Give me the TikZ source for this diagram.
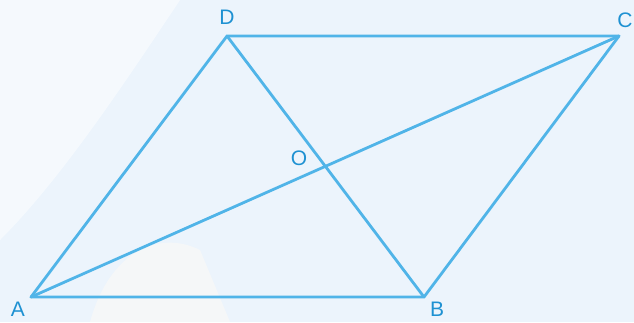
\documentclass[tikz,border=0pt]{standalone}
\usepackage{fontspec}
\setmainfont{Liberation Sans}
\usepackage{xcolor}
\usetikzlibrary{calc}
\definecolor{edgeblue}{RGB}{80,180,232}
\definecolor{labelblue}{RGB}{30,145,210}
\definecolor{bgblue}{RGB}{236,244,252}
\begin{document}
\begin{tikzpicture}[
  x=1pt, y=-1pt,
  edge/.style={draw=edgeblue, line width=2.8pt, line join=round, line cap=round},
  lbl/.style={text=labelblue, font=\fontsize{21}{21}\selectfont, inner sep=0pt}
]
\fill[bgblue] (0,0) rectangle (634,322);
\useasboundingbox (0,0) rectangle (634,322);
% faint watermark
\fill[white, opacity=0.5] (0,0) -- (180,0) .. controls (120,90) and (60,180) .. (0,240) -- cycle;
\fill[orange!4, opacity=0.5] (90,322) .. controls (110,250) and (160,230) .. (200,250) -- (230,322) -- cycle;
% vertices
\coordinate (A) at (31,297);
\coordinate (B) at (424,297);
\coordinate (C) at (619,36);
\coordinate (D) at (227,36);
\coordinate (O) at ($(A)!0.5!(C)$);
% sides and diagonals
\draw[edge] (A) -- (B) -- (C) -- (D) -- cycle;
\draw[edge] (A) -- (C);
\draw[edge] (D) -- (B);
% labels
\node[lbl] (la) at (18,309) {A};
\node[lbl] (lb) at (437,309) {B};
\node[lbl] (lc) at (625,20) {C};
\node[lbl] (ld) at (227,17) {D};
\node[lbl] (lo) at (299,158) {O};
\end{tikzpicture}
\end{document}
